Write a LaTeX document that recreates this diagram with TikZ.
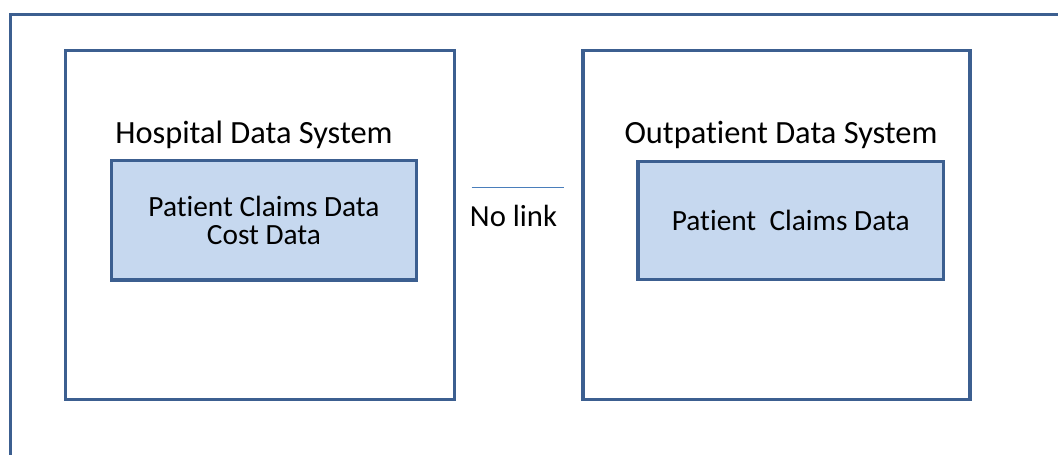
\documentclass[tikz,border=0pt]{standalone}
\usepackage{fontspec}
\setmainfont{Carlito}[Ligatures=NoCommon]
\definecolor{frameblue}{HTML}{3C5F90}
\definecolor{boxfill}{HTML}{C6D8EF}
\definecolor{linkblue}{HTML}{4A7EBB}
\begin{document}
\begin{tikzpicture}[x=0.75pt,y=-0.75pt,
  sysbox/.style={draw=frameblue,line width=2.3pt,fill=white,inner sep=0pt,outer sep=0pt},
  databox/.style={draw=frameblue,line width=2.3pt,fill=boxfill,inner sep=0pt,outer sep=0pt,
    align=center,font=\fontsize{22}{21.3}\selectfont},
  title/.style={anchor=base,inner sep=0pt,font=\fontsize{24.3}{28}\selectfont},
  linklabel/.style={anchor=base,inner sep=0pt,font=\fontsize{23}{27}\selectfont}]
\useasboundingbox (0,0) rectangle (1058,454);
\begin{scope}
  \clip (0,0) rectangle (1058,454);
  % enclosing frame, running past the page on the right and bottom
  \coordinate (fbl) at (10.5,470);
  \coordinate (ftl) at (10.5,14.5);
  \coordinate (ftr) at (1080,14.5);
  \draw[frameblue,line width=2.3pt] (fbl) -- (ftl) -- (ftr);
\end{scope}
% the two data systems
\node[sysbox,minimum width=291.75pt,minimum height=261.75pt,anchor=north west] (hosp) at (65.5,50.5) {};
\node[sysbox,minimum width=290.25pt,minimum height=261.75pt,anchor=north west] (outp) at (583,50.5) {};
\node[title] (hosptitle) at (254,143.3) {Hospital Data System};
\node[title] (outptitle) at (781,143.3) {Outpatient Data System};
% data held in each system
\node[databox,minimum width=228.75pt,minimum height=89.6pt,anchor=north west] (hospdata) at (111.5,160.5)
  {Patient Claims Data\\Cost Data};
\node[databox,minimum width=229.1pt,minimum height=88.5pt,anchor=north west] (outpdata) at (638,161.3)
  {Patient\ \ Claims Data};
% separator between the systems
\coordinate (linkl) at (471.7,187.3);
\coordinate (linkr) at (564,187.3);
\draw[linkblue,line width=1pt] (linkl) -- (linkr);
\node[linklabel] (nolink) at (513.5,226.7) {No link};
\end{tikzpicture}
\end{document}
